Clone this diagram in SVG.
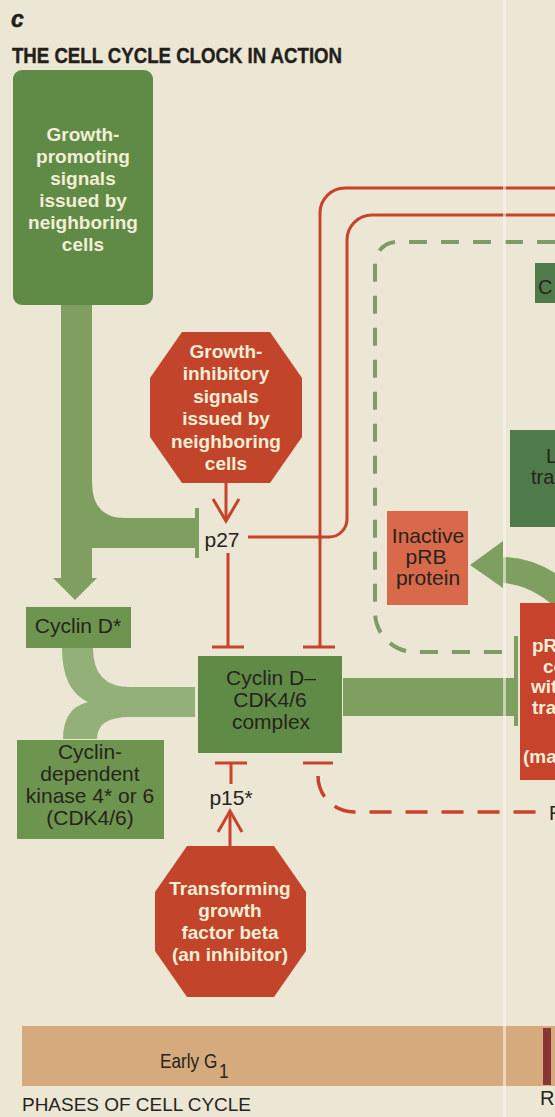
<svg xmlns="http://www.w3.org/2000/svg" width="555" height="1117" viewBox="0 0 555 1117">
<style>
text{font-family:"Liberation Sans",Arial,sans-serif}
.wt{fill:#f4eed6;font-weight:bold;font-size:19px;text-anchor:middle}
.wl{fill:#f4eed6;font-weight:bold;font-size:19px}
.dt{fill:#26241d;font-size:21px;text-anchor:middle}
.dl{fill:#26241d;font-size:20px}
.red{stroke:#c8432b;stroke-width:3;fill:none}
.reddash{stroke:#c8432b;stroke-width:3.5;fill:none;stroke-dasharray:22 14}
.gdash{stroke:#7f9b6a;stroke-width:4;fill:none;stroke-dasharray:18 14}
.gbox{fill:#5f8b46}
.lbox{fill:#6e9550}
.dbox{fill:#4f7b4a}
.oct{fill:#c2452b}
.garrow{fill:#7f9f60}
.yarrow{fill:#93b079}
</style>
<rect x="0" y="0" width="555" height="1117" fill="#ece6d4"/>

<g id="title">
<text x="11" y="27" font-size="23" font-weight="bold" font-style="italic" fill="#231f1a" stroke="#231f1a" stroke-width="0.5">c</text>
<text x="12" y="63" font-size="22" font-weight="bold" fill="#231f1a" stroke="#231f1a" stroke-width="0.4" textLength="330" lengthAdjust="spacingAndGlyphs">THE CELL CYCLE CLOCK IN ACTION</text>
</g>

<g id="connectors">
<path class="garrow" d="M61,305 H92 V482 Q92,518 125,518 H195 V548 H92 V578 H97 L75,600 L53,578 H61 Z"/>
<rect class="garrow" x="195" y="508" width="4" height="50"/>
<path class="yarrow" d="M62,648 H93 Q93,687 130,687 H195 V717 H130 Q97,717 97,739 H63 Q63,708 88,702 Q62,690 62,648 Z"/>
<rect class="garrow" x="343" y="678" width="171" height="38"/>
<rect class="garrow" x="514" y="636" width="4" height="90"/>
<path class="garrow" d="M503,557 Q530,557 555,573 V607 Q530,585 503,583 V588 L470,565 L503,541 Z"/>
<path class="gdash" d="M555,242 H397 A22,22 0 0 0 375,264 V612 A40,40 0 0 0 415,652 H510"/>
<line class="red" x1="226" y1="483" x2="226" y2="520"/>
<polyline class="red" points="213,499 226,521 239,499"/>
<line class="red" x1="228" y1="553" x2="228" y2="647"/>
<line class="red" x1="212" y1="647" x2="244" y2="647"/>
<path class="red" d="M555,188 H345 A25,25 0 0 0 320,213 V647"/>
<line class="red" x1="303" y1="647" x2="335" y2="647"/>
<path class="red" d="M555,215 H372 A25,25 0 0 0 347,240 V519 A18,18 0 0 1 329,537 H248"/>
<line class="red" x1="215" y1="763" x2="247" y2="763"/>
<line class="red" x1="231" y1="763" x2="231" y2="784"/>
<line class="red" x1="230" y1="846" x2="230" y2="812"/>
<polyline class="red" points="218,832 230,811 242,832"/>
<line class="red" x1="303" y1="763" x2="333" y2="763"/>
<path class="reddash" d="M318,776 A36,36 0 0 0 354,812 H549"/>
</g>

<g id="node-growth-promoting">
<rect class="gbox" x="13" y="70" width="140" height="235" rx="9"/>
<text class="wt" x="83" y="141">Growth-</text>
<text class="wt" x="83" y="163">promoting</text>
<text class="wt" x="83" y="185">signals</text>
<text class="wt" x="83" y="207">issued by</text>
<text class="wt" x="83" y="229">neighboring</text>
<text class="wt" x="83" y="251">cells</text>
</g>

<g id="node-growth-inhibitory">
<polygon class="oct" points="182,332 270,332 302,378 302,437 270,483 182,483 150,437 150,378"/>
<text class="wt" x="226" y="358">Growth-</text>
<text class="wt" x="226" y="380">inhibitory</text>
<text class="wt" x="226" y="403">signals</text>
<text class="wt" x="226" y="425">issued by</text>
<text class="wt" x="226" y="448">neighboring</text>
<text class="wt" x="226" y="470">cells</text>
</g>

<g id="node-p27">
<text class="dt" x="222" y="547">p27</text>
</g>

<g id="node-cyclin-d">
<rect class="lbox" x="26" y="607" width="105" height="41"/>
<text class="dt" x="78" y="633">Cyclin D*</text>
</g>

<g id="node-cdk46">
<rect class="lbox" x="17" y="740" width="147" height="99"/>
<text class="dt" x="90" y="759">Cyclin-</text>
<text class="dt" x="90" y="781">dependent</text>
<text class="dt" x="90" y="803">kinase 4* or 6</text>
<text class="dt" x="90" y="825">(CDK4/6)</text>
</g>

<g id="node-complex">
<rect class="gbox" x="198" y="656" width="144" height="97"/>
<text class="dt" x="271" y="685">Cyclin D–</text>
<text class="dt" x="270" y="707">CDK4/6</text>
<text class="dt" x="271" y="729">complex</text>
</g>

<g id="node-p15">
<text class="dt" x="231" y="805">p15*</text>
</g>

<g id="node-tgf-beta">
<polygon class="oct" points="187,846 274,846 306,892 306,951 274,997 187,997 155,951 155,892"/>
<text class="wt" x="230" y="895">Transforming</text>
<text class="wt" x="230" y="917">growth</text>
<text class="wt" x="230" y="939">factor beta</text>
<text class="wt" x="230" y="961">(an inhibitor)</text>
</g>

<g id="node-inactive-prb">
<rect x="387" y="511" width="81" height="94" fill="#d8694a"/>
<text class="dt" x="428" y="543" font-size="19">Inactive</text>
<text class="dt" x="426" y="564" font-size="19">pRB</text>
<text class="dt" x="428" y="585" font-size="19">protein</text>
</g>

<g id="node-c-box">
<rect class="dbox" x="535" y="263" width="20" height="40"/>
<text class="dl" x="538" y="294">C</text>
</g>

<g id="node-l-box">
<rect class="dbox" x="510" y="430" width="45" height="97"/>
<text class="dl" x="546" y="463" font-size="18">L</text>
<text class="dl" x="531" y="484" font-size="18">tra</text>
</g>

<g id="node-prb-complex">
<rect x="520" y="603" width="35" height="177" fill="#c8432b"/>
<text class="wl" x="532" y="652">pR</text>
<text class="wl" x="543" y="673">co</text>
<text class="wl" x="531" y="693">wit</text>
<text class="wl" x="532" y="714">tra</text>
<text class="wl" x="523" y="763">(ma</text>
</g>

<g id="dash-end-label">
<text class="dl" x="549" y="820">R</text>
</g>

<g id="phase-bar">
<rect x="22" y="1026" width="533" height="60" fill="#d5aa7c"/>
<rect x="543" y="1028" width="8" height="57" fill="#8a3535"/>
<text class="dl" font-size="19" transform="translate(160,1068) scale(0.86,1)">Early G<tspan dx="2" dy="10">1</tspan></text>
<text x="22" y="1111" font-size="19" fill="#26241d" textLength="229" lengthAdjust="spacingAndGlyphs">PHASES OF CELL CYCLE</text>
<text class="dl" x="540" y="1105" font-size="19">R</text>
</g>

<rect x="503" y="0" width="3" height="1117" fill="#f8f5ec" opacity="0.6"/>
</svg>
